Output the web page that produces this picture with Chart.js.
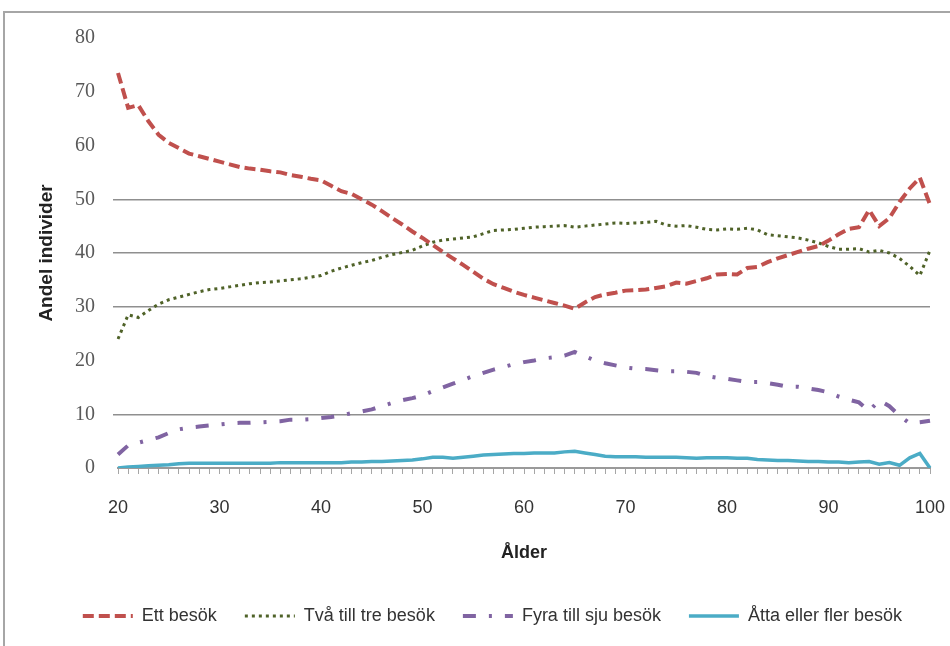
<!DOCTYPE html>
<html><head><meta charset="utf-8">
<script src="https://cdn.jsdelivr.net/npm/chart.js@4.4.1/dist/chart.umd.min.js"></script>
<style>
html,body{margin:0;padding:0;background:#fff;}
#wrap{position:relative;width:950px;height:646px;overflow:hidden;background:#fff;}
#frame{position:absolute;left:3px;top:11px;width:1000px;height:700px;border:2px solid #a6a6a6;}
canvas{position:absolute;left:0;top:0;}
</style></head><body>
<div id="wrap"><div id="frame"></div><canvas id="c" width="950" height="646"></canvas></div>
<script>
const ages = [20,21,22,23,24,25,26,27,28,29,30,31,32,33,34,35,36,37,38,39,40,41,42,43,44,45,46,47,48,49,50,51,52,53,54,55,56,57,58,59,60,61,62,63,64,65,66,67,68,69,70,71,72,73,74,75,76,77,78,79,80,81,82,83,84,85,86,87,88,89,90,91,92,93,94,95,96,97,98,99,100];

const ettBesok = [73.5,67,67.5,64.5,62,60.5,59.5,58.5,58,57.5,57,56.5,56,55.7,55.5,55.2,55,54.5,54.2,53.8,53.5,52.5,51.5,51,50,49,47.8,46.5,45.3,44,42.8,41.5,40.2,39,37.8,36.5,35.2,34.2,33.5,32.8,32.2,31.7,31.2,30.7,30.2,29.6,30.8,31.8,32.3,32.6,33,33.1,33.2,33.5,33.8,34.5,34.3,34.8,35.3,36,36.1,36,37.2,37.4,38.3,39,39.6,40.2,40.8,41.3,42.3,43.5,44.5,44.8,48,45,46.5,49.5,52,54,49];

const tvaTillTre = [24,28.5,28,29.3,30.5,31.3,31.8,32.3,32.8,33.2,33.4,33.7,34,34.3,34.5,34.6,34.8,35,35.2,35.5,35.8,36.6,37.2,37.7,38.2,38.6,39.2,39.7,40.1,40.5,41.3,42,42.4,42.6,42.8,43,43.6,44.2,44.3,44.4,44.6,44.8,44.9,45,45.1,44.8,45,45.2,45.4,45.6,45.5,45.6,45.7,45.9,45.2,45,45.1,44.8,44.4,44.3,44.5,44.4,44.6,44.3,43.4,43.2,43,42.8,42.4,41.9,41.2,40.7,40.7,40.8,40.2,40.5,40,39,37.5,35.8,40.5];

const fyraTillSju = [2.5,4.2,4.7,5.2,5.7,6.5,7.2,7.5,7.7,7.9,8.1,8.3,8.4,8.4,8.5,8.6,8.7,9,9,9.1,9.3,9.5,9.8,10.2,10.5,10.9,11.5,12.1,12.6,13,13.5,14.3,15,15.7,16.4,17.1,17.7,18.3,18.8,19.3,19.7,20,20.4,20.6,20.9,21.6,20.8,20,19.5,19.1,18.7,18.5,18.4,18.2,18,18,17.9,17.7,17.1,16.8,16.6,16.3,16,16,15.8,15.5,15.1,15.1,14.8,14.5,14.1,13.3,12.7,12.2,10.6,12.6,11.5,9.7,8.3,8.5,8.8];

const attaEllerFler = [0,0.2,0.3,0.4,0.5,0.6,0.8,0.9,0.9,0.9,0.9,0.9,0.9,0.9,0.9,0.9,1,1,1,1,1,1,1,1.1,1.1,1.2,1.2,1.3,1.4,1.5,1.7,2,2,1.8,2,2.2,2.4,2.5,2.6,2.7,2.7,2.8,2.8,2.8,3,3.1,2.8,2.5,2.2,2.1,2.1,2.1,2,2,2,2,1.9,1.8,1.9,1.9,1.9,1.8,1.8,1.6,1.5,1.4,1.4,1.3,1.2,1.2,1.1,1.1,1,1.1,1.2,0.7,1,0.5,1.9,2.7,0];

const seriesNames = ['Ett besök','Två till tre besök','Fyra till sju besök','Åtta eller fler besök'];
const yTicksWithGrid = [10,30,40,50];

const sansFont = "'Liberation Sans',Arial,sans-serif";
const serifFont = "'Liberation Serif','DejaVu Serif',serif";

new Chart(document.getElementById('c'), {
  type: 'line',
  data: {
    labels: ages,
    datasets: [
      {label: seriesNames[0], data: ettBesok, borderColor: '#C0504D', backgroundColor: '#C0504D', borderWidth: 4, borderDash: [11,5], pointRadius: 0, tension: 0, fill: false},
      {label: seriesNames[1], data: tvaTillTre, borderColor: '#4F6228', backgroundColor: '#4F6228', borderWidth: 3, borderDash: [3,4], pointRadius: 0, tension: 0, fill: false},
      {label: seriesNames[2], data: fyraTillSju, borderColor: '#8064A2', backgroundColor: '#8064A2', borderWidth: 4, borderDash: [13,13,3,13], pointRadius: 0, tension: 0, fill: false},
      {label: seriesNames[3], data: attaEllerFler, borderColor: '#4BACC6', backgroundColor: '#4BACC6', borderWidth: 3.5, pointRadius: 0, tension: 0, fill: false}
    ]
  },
  options: {
    responsive: false,
    animation: false,
    layout: {padding: {left: 0, right: 20, top: 38, bottom: 11}},
    plugins: {
      tooltip: {enabled: false},
      legend: {
        position: 'bottom',
        align: 'end',
        labels: {
          usePointStyle: true,
          pointStyle: 'line',
          pointStyleWidth: 50,
          padding: 28,
          color: '#333333',
          font: {family: sansFont, size: 18},
          generateLabels: function(chart) {
            const items = Chart.defaults.plugins.legend.labels.generateLabels(chart);
            items.forEach(function(it, i) {
              const ds = chart.data.datasets[i];
              it.lineDash = ds.borderDash || [];
              it.lineWidth = ds.borderWidth;
              it.strokeStyle = ds.borderColor;
              it.pointStyle = 'line';
            });
            return items;
          }
        }
      }
    },
    scales: {
      x: {
        type: 'category',
        offset: false,
        grid: {display: true, drawOnChartArea: false, drawTicks: true, tickLength: 6, color: '#a6a6a6', lineWidth: 1},
        border: {display: true, color: '#9a9a9a', width: 2},
        ticks: {
          autoSkip: false, maxRotation: 0, minRotation: 0, padding: 23,
          color: '#333333', font: {family: sansFont, size: 18},
          callback: function(v, i) { const a = ages[i]; return a % 10 === 0 ? String(a) : ''; }
        },
        title: {display: true, text: 'Ålder', color: '#222', font: {family: sansFont, size: 18, weight: 'bold'}, padding: {top: 0, bottom: 15}},
        afterFit: function(s) { s.height = 111; s.paddingRight = 0; s.paddingLeft = 0; }
      },
      y: {
        min: 0, max: 80,
        ticks: {stepSize: 10, padding: 18, color: '#595959', font: {family: serifFont, size: 20}},
        grid: {
          color: function(c) { return (c.tick && yTicksWithGrid.includes(c.tick.value)) ? '#8f8f8f' : 'rgba(0,0,0,0)'; },
          lineWidth: 1.5, drawTicks: true, tickLength: 5
        },
        border: {display: false},
        title: {display: true, text: 'Andel individer', color: '#222', font: {family: sansFont, size: 19, weight: 'bold'}, padding: {top: 35.5, bottom: 0}},
        afterFit: function(s) { s.width = 118; }
      }
    }
  }
});
</script>
</body></html>
